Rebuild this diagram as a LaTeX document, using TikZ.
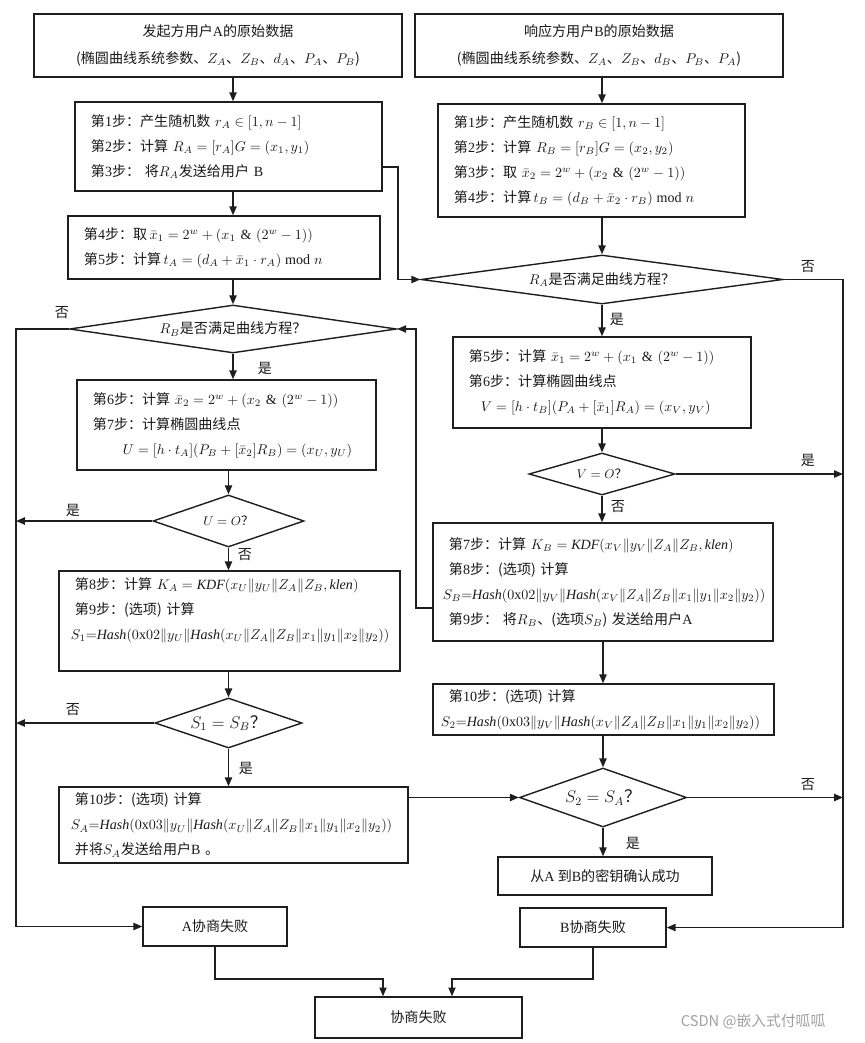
\documentclass[tikz,border=0pt]{standalone}
\usepackage{amsmath, amssymb}
\usepackage{fontspec}
\setmainfont{Liberation Serif}
\newfontfamily\cjk{Noto Sans CJK SC}
\usepackage{tikz}
\usetikzlibrary{positioning, arrows.meta, shapes.geometric}
\definecolor{lineColor}{RGB}{30, 30, 30}
\definecolor{textColor}{RGB}{25, 25, 25}
\definecolor{markColor}{RGB}{160, 160, 160}
\newcommand{\stp}[1]{第\textrm{#1}步：}

\begin{document}
\begin{tikzpicture}[x=0.025cm, y=-0.025cm,
    every node/.style={text=textColor},
    headbox/.style={draw=lineColor, line width=1pt, align=center, font={\cjk\fontsize{10pt}{19pt}\selectfont}},
    stepbox/.style={draw=lineColor, line width=1pt, align=left, inner xsep=4mm, inner ysep=1mm, font={\cjk\fontsize{10pt}{17.8pt}\selectfont}},
    decision/.style={diamond, draw=lineColor, line width=1pt, inner sep=0pt, font={\cjk\fontsize{10pt}{12pt}\selectfont}},
    lbl/.style={font={\cjk\fontsize{10pt}{12pt}\selectfont}},
    arr/.style={draw=lineColor, line width=1pt, -{Triangle[length=2.2mm, width=1.8mm]}}]
    \useasboundingbox (0,0) rectangle (865,1043);

    \node[headbox, minimum width=92mm, minimum height=15.75mm] (a0) at (218,45.5) {发起方用户\textrm{A}的原始数据\\(椭圆曲线系统参数、$Z_A$、$Z_B$、$d_A$、$P_A$、$P_B$)};
    \node[headbox, minimum width=92mm, minimum height=15.75mm] (b0) at (599,45.5) {响应方用户\textrm{B}的原始数据\\(椭圆曲线系统参数、$Z_A$、$Z_B$、$d_B$、$P_B$、$P_A$)};

    \node[stepbox, text width=68.75mm, minimum height=22.25mm] (a1) at (228.5,146.5) {\stp{1}产生随机数 $r_A\in[1,n-1]$\\\stp{2}计算 $R_A=[r_A]G=(x_1,y_1)$\\\stp{3} 将$R_A$发送给用户 \textrm{B}};
    \node[stepbox, text width=70mm, minimum height=15.75mm] (a2) at (224,247.5) {\stp{4}取\,$\bar{x}_1=2^w+(x_1\ \&\ (2^w-1))$\\\stp{5}计算\,$t_A=(d_A+\bar{x}_1\cdot r_A)\bmod n$};
    \node[stepbox, text width=68.75mm, minimum height=28.25mm] (b1) at (591.5,160.5) {\stp{1}产生随机数 $r_B\in[1,n-1]$\\\stp{2}计算 $R_B=[r_B]G=(x_2,y_2)$\\\stp{3}取 $\bar{x}_2=2^w+(x_2\ \&\ (2^w-1))$\\\stp{4}计算\,$t_B=(d_B+\bar{x}_2\cdot r_B)\bmod n$};

    \node[decision, minimum width=90.5mm, minimum height=12.25mm, aspect=7.4] (ra) at (602,279.5) {$R_A$是否满足曲线方程？};
    \node[decision, minimum width=81.75mm, minimum height=12mm, aspect=6.8] (rb) at (233,329) {$R_B$是否满足曲线方程？};

    \node[stepbox, text width=66.5mm, minimum height=22.75mm] (b2) at (602,382.5) {\stp{5}计算 $\bar{x}_1=2^w+(x_1\ \&\ (2^w-1))$\\\stp{6}计算椭圆曲线点\\\hspace*{3mm}$V=[h\cdot t_B](P_A+[\bar{x}_1]R_A)=(x_V,y_V)$};
    \node[stepbox, text width=66.75mm, minimum height=22.5mm] (a3) at (226.5,425) {\stp{6}计算 $\bar{x}_2=2^w+(x_2\ \&\ (2^w-1))$\\\stp{7}计算椭圆曲线点\\\hspace*{7.5mm}$U=[h\cdot t_A](P_B+[\bar{x}_2]R_B)=(x_U,y_U)$};

    \node[decision, minimum width=36.5mm, minimum height=10.5mm, aspect=3.5, font={\cjk\small}] (vo) at (602,474) {$V=O$？};
    \node[decision, minimum width=37.75mm, minimum height=13mm, aspect=2.9, font={\cjk\small}] (uo) at (228.5,521) {$U=O$？};

    \node[stepbox, text width=77mm, minimum height=29.5mm] (b3) at (603,582) {\stp{7}计算 $K_B=\mathit{KDF}(x_V\|y_V\|Z_A\|Z_B,\mathit{klen})$\\\stp{8}(选项) 计算\\\hspace*{-1.5mm}\mbox{$S_B{=}\mathit{Hash}(0\mathrm{x}02\|y_V\|\mathit{Hash}(x_V\|Z_A\|Z_B\|x_1\|y_1\|x_2\|y_2))$}\\\stp{9} 将$R_B$、(选项$S_B$) 发送给用户\textrm{A}};
    \node[stepbox, text width=77.25mm, minimum height=25mm] (a4) at (229.5,621) {\stp{8}计算 $K_A=\mathit{KDF}(x_U\|y_U\|Z_A\|Z_B,\mathit{klen})$\\\stp{9}(选项) 计算\\\hspace*{-1mm}\mbox{$S_1{=}\mathit{Hash}(0\mathrm{x}02\|y_U\|\mathit{Hash}(x_U\|Z_A\|Z_B\|x_1\|y_1\|x_2\|y_2))$}\\~};

    \node[decision, minimum width=36.75mm, minimum height=12.5mm, aspect=2.94, font={\cjk\large}] (s1) at (228.5,723) {$S_1=S_B$？};
    \node[stepbox, text width=79.25mm, minimum height=19mm] (a5) at (233.5,825) {\stp{10}(选项) 计算\\\hspace*{-1mm}\mbox{$S_A{=}\mathit{Hash}(0\mathrm{x}03\|y_U\|\mathit{Hash}(x_U\|Z_A\|Z_B\|x_1\|y_1\|x_2\|y_2))$}\\并将$S_A$发送给用户\textrm{B} 。};
    \node[stepbox, text width=77.25mm, minimum height=12.75mm] (b4) at (603.5,709.5) {\stp{10}(选项) 计算\\\hspace*{-2mm}\mbox{$S_2{=}\mathit{Hash}(0\mathrm{x}03\|y_V\|\mathit{Hash}(x_V\|Z_A\|Z_B\|x_1\|y_1\|x_2\|y_2))$}};
    \node[decision, minimum width=41.75mm, minimum height=14.75mm, aspect=2.83, font={\cjk\large}] (s2) at (603,797.5) {$S_2=S_A$？};

    \node[headbox, minimum width=53.5mm, minimum height=9.5mm] (ok) at (605,876) {从\textrm{A} 到\textrm{B}的密钥确认成功};
    \node[headbox, minimum width=36mm, minimum height=9.75mm] (fa) at (215,926.5) {\textrm{A}协商失败};
    \node[headbox, minimum width=36.5mm, minimum height=9.75mm] (fb) at (593,927.5) {\textrm{B}协商失败};
    \node[headbox, minimum width=51.75mm, minimum height=10.25mm] (fail) at (418.5,1017.5) {协商失败};

    \coordinate (colA) at (233,0);
    \coordinate (laneL) at (16,0);
    \coordinate (laneC) at (398,0);
    \coordinate (laneM) at (416,0);
    \coordinate (laneR) at (843,0);
    \coordinate (rowA1) at (0,167);
    \coordinate (rowB3) at (0,608);
    \coordinate (rowJoin) at (0,979);
    \coordinate (inA) at (383,0);
    \coordinate (inB) at (452,0);

    \draw[arr] (a0.south -| colA) -- (a1.north -| colA);
    \draw[arr] (a1.south -| colA) -- (a2.north -| colA);
    \draw[arr] (a2.south -| rb.north) -- (rb.north);
    \draw[arr] (rb.south) -- (a3.north -| rb.south);
    \draw[arr] (a3.south -| uo.north) -- (uo.north);
    \draw[arr] (uo.south) -- (a4.north -| uo.south);
    \draw[arr] (a4.south -| s1.north) -- (s1.north);
    \draw[arr] (s1.south) -- (a5.north -| s1.south);

    \draw[arr] (b0.south -| ra.north) -- (b1.north -| ra.north);
    \draw[arr] (b1.south -| ra.north) -- (ra.north);
    \draw[arr] (ra.south) -- (b2.north -| ra.south);
    \draw[arr] (b2.south -| vo.north) -- (vo.north);
    \draw[arr] (vo.south) -- (b3.north -| vo.south);
    \draw[arr] (b3.south -| s2.north) -- (b4.north -| s2.north);
    \draw[arr] (b4.south -| s2.north) -- (s2.north);
    \draw[arr] (s2.south) -- (ok.north -| s2.south);

    \draw[arr] (a1.east |- rowA1) -| (laneC |- ra.west) -- (ra.west);
    \draw[arr] (ra.east) -| (laneR |- fb.east) -- (fb.east);
    \draw[arr] (rb.west) -| (laneL |- fa.west) -- (fa.west);
    \draw[arr] (b3.west |- rowB3) -| (laneM |- rb.east) -- (rb.east);
    \draw[arr] (vo.east) -- (vo.east -| laneR);
    \draw[arr] (uo.west) -- (uo.west -| laneL);
    \draw[arr] (s1.west) -- (s1.west -| laneL);
    \draw[arr] (s2.east) -- (s2.east -| laneR);
    \draw[arr] (a5.east |- s2.west) -- (s2.west);
    \draw[arr] (fa.south) |- (rowJoin -| inA) -- (fail.north -| inA);
    \draw[arr] (fb.south) |- (rowJoin -| inB) -- (fail.north -| inB);

    \node[lbl] (noRA) at (808,267) {否};
    \node[lbl] (yesRA) at (617,319) {是};
    \node[lbl] (noRB) at (62,313) {否};
    \node[lbl] (yesRB) at (265,368) {是};
    \node[lbl] (yesVO) at (808,460) {是};
    \node[lbl] (noVO) at (618,507) {否};
    \node[lbl] (yesUO) at (73,510) {是};
    \node[lbl] (noUO) at (245,555) {否};
    \node[lbl] (noS1) at (73,710) {否};
    \node[lbl] (yesS1) at (246,768) {是};
    \node[lbl] (noS2) at (808,785) {否};
    \node[lbl] (yesS2) at (633,843) {是};

    \node[text=markColor, font={\cjk\fontsize{10.5pt}{12pt}\selectfont}] (mark) at (753,1022) {CSDN @嵌入式付呱呱};
\end{tikzpicture}
\end{document}
